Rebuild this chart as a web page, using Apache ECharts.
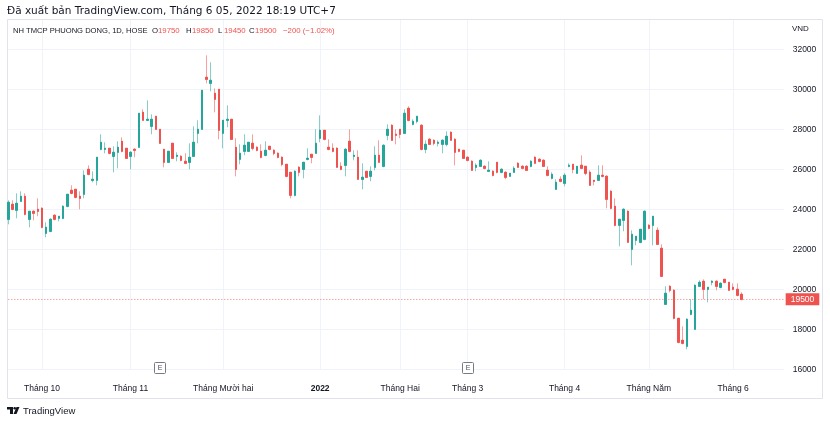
<!DOCTYPE html>
<html><head><meta charset="utf-8">
<script src="https://cdn.jsdelivr.net/npm/echarts@6/dist/echarts.min.js"></script>
<style>html,body{margin:0;padding:0;background:#fff}#c{width:830px;height:423px}</style>
</head><body><div id="c"></div>
<script>
// ---- data ----
const months = ['2021-09','2021-10','2021-11','2021-12','2022-01','2022-02','2022-03','2022-04','2022-05','2022-06'];
const tradingDays = [
  [21,22,23,24,27,28,29,30],
  [1,4,5,6,7,8,11,12,13,14,15,18,19,20,21,22,25,26,27,28,29],
  [1,2,3,4,5,8,9,10,11,12,15,16,17,18,19,22,23,24,25,26,29,30],
  [1,2,3,6,7,8,9,10,13,14,15,16,17,20,21,22,23,24,27,28,29,30,31],
  [4,5,6,7,10,11,12,13,14,17,18,19,20,21,24,25,26,27,28],
  [7,8,9,10,11,14,15,16,17,18,21,22,23,24,25,28],
  [1,2,3,4,7,8,9,10,11,14,15,16,17,18,21,22,23,24,25,28,29,30,31],
  [1,4,5,6,7,8,12,13,14,15,18,19,20,21,22,25,26,27,28,29],
  [4,5,6,9,10,11,12,13,16,17,18,19,20,23,24,25,26,27,30,31],
  [1,2,3]
];
const monthLabels = ['', 'Tháng 10', 'Tháng 11', 'Tháng Mười hai', '2022', 'Tháng Hai', 'Tháng 3', 'Tháng 4', 'Tháng Năm', 'Tháng 6'];
const openP = [23500,24250,23950,24400,24650,23500,23900,24000,24050,22800,22900,23700,23550,23550,24150,24950,25000,24650,24750,26000,
25450,25450,27000,27000,27050,26650,26850,27400,27050,26650,27000,27100,28850,28450,28150,28650,28000,27000,26350,27300,
26650,26650,26400,26350,26650,27800,28000,30600,30300,29800,30000,27800,28450,28500,27100,26500,26900,26900,27300,27100,
26900,26700,27150,26950,26800,26600,26250,25850,24700,26100,26000,26500,26750,26800,27550,27950,27100,27050,27050,26150,
26200,27400,26650,26600,25500,25900,25650,26100,26700,26150,27700,28200,27750,28000,27800,29050,28250,28400,28200,27000,
27500,27450,27300,27250,27250,27850,27500,27000,26950,26600,26400,26100,26150,26150,25900,25900,26350,25850,25850,25650,
25850,26300,26150,26150,26150,26600,26500,26450,25950,25550,25000,25500,25300,26150,26250,25800,26200,26150,25850,25450,
25450,25700,25650,24900,24150,23200,23450,23900,22000,22450,22350,22500,23200,23200,22950,22050,19250,20150,19950,18550,
17450,17150,18750,18000,20150,20400,20000,20350,20400,20100,20500,20350,20100,20000,19750];
const highP = [24450,24450,24800,24900,24800,23900,23950,24550,24100,23350,23550,23750,23650,24200,24750,25200,25000,24900,25950,26200,
25900,26600,27750,27350,27050,27150,27400,27600,27050,26900,27050,28800,29000,29450,28750,28650,28000,27000,26900,27300,
26850,26700,26800,27300,28150,28450,29950,31700,31350,30050,30000,28450,29200,28500,27550,27250,27750,27350,27750,27150,
27250,27400,27150,27000,26850,26650,26250,25850,25950,26150,26350,27050,26750,28000,28700,27950,27500,27300,27100,26350,
27050,28000,26950,26950,26300,25900,26150,27150,27450,27250,28250,28250,28000,28000,29000,29150,28500,28650,28250,27450,
27550,27500,27450,27500,27900,27900,27550,27000,26950,26650,26450,26300,26500,26200,26400,25950,26350,26050,25900,25800,
26150,26350,26200,26200,26450,26650,26550,26500,26150,25850,25500,25650,25800,26300,26250,26150,26700,26150,25950,25450,
26200,26200,25700,24950,24550,23500,24050,23950,22950,22650,23000,23950,23250,23650,23100,22250,20150,20200,20000,18550,
18150,18550,19500,20250,20450,20500,20100,20450,20450,20350,20500,20350,20300,20300,19850];
const lowP = [23250,23950,23550,24400,23700,23100,23450,23650,23050,22600,22850,23450,23400,23500,24100,24750,24550,24000,24550,25700,
25350,25200,26950,26800,26750,25850,26050,26850,26550,26000,26600,27100,28450,28450,27750,28000,27300,26100,26350,26550,
26400,26400,26300,26000,26650,27300,28000,30300,29900,28850,27500,27050,28100,27500,25650,26250,26700,26900,26950,26900,
26550,26650,26950,26700,26550,26150,25600,24550,24650,25650,25550,26450,26300,26800,27350,27450,26950,26850,26100,25950,
25650,26850,26450,25500,25000,25600,25400,25950,26350,26100,27450,27450,27250,27550,27800,28400,28200,28300,26950,26800,
27250,27200,27150,26800,27150,27450,26200,26850,26550,26400,25950,25900,26150,26000,25900,25650,25800,25800,25500,25650,
25850,26100,26000,25950,26100,26300,26350,26150,25650,25500,25000,25350,25150,26100,25800,25800,26050,25700,25200,25200,
25450,25600,24050,24000,23150,22150,22900,22350,21200,22200,22300,22450,23000,22200,22250,20650,19250,19850,18500,17300,
17250,17000,18700,18000,20150,19500,19350,20200,19950,20050,20300,19950,19950,19650,19450];
const closeP = [24350,24000,24300,24650,23750,23900,23800,23900,23100,23100,23500,23500,23650,24150,24750,24800,24600,24550,25700,25750,
25500,26600,27350,27050,26800,26850,27100,26900,26550,26850,26950,28800,28450,28500,28500,28000,27300,26350,26900,26550,
26700,26450,26300,26600,27350,28000,29950,30500,30450,29500,27950,28450,28500,27500,26000,26800,27200,27350,27050,26950,
26600,26950,27000,26800,26600,26250,25650,24700,25900,25850,26350,26550,26600,27300,27950,27500,27000,26900,26100,26000,
27000,26900,26700,25500,25600,25600,25900,26700,26350,27200,28000,27450,27700,27750,28800,28450,28400,28650,27000,27250,
27250,27300,27350,27450,27650,27450,26850,26900,26550,26450,25950,26200,26450,26050,25950,25700,25850,26000,25600,25800,
26050,26100,26050,25950,26400,26300,26400,26150,25700,25750,25350,25400,25700,26200,26000,26150,26050,25800,25200,25400,
25700,25650,24500,24050,23200,23500,24000,22350,22750,22650,23000,23900,23050,23650,22250,20650,19800,19950,18550,17350,
17300,18500,18950,20200,20350,20000,20100,20400,20150,20300,20350,19950,20000,19700,19500];
const lastPrice = 19500;
const priceTicks = [16000, 18000, 20000, 22000, 24000, 26000, 28000, 30000, 32000];
const earningsDates = ['2021-11-10', '2022-03-01'];
const headerTitle = 'Đã xuất bản TradingView.com, Tháng 6 05, 2022 18:19 UTC+7';
const symbolText = 'NH TMCP PHUONG DONG, 1D, HOSE';
const ohlcText = [['O', '19750'], ['H', '19850'], ['L', '19450'], ['C', '19500']];
const changeText = '\u2212200 (\u22121.02%)';

// ---- build ----
const pad2 = n => (n < 10 ? '0' : '') + n;
const dates = [];
const monthStartIdx = {};
months.forEach((m, mi) => {
  tradingDays[mi].forEach((d, k) => {
    if (k === 0 && monthLabels[mi]) monthStartIdx[dates.length] = monthLabels[mi];
    dates.push(m + '-' + pad2(d));
  });
});
const PAD = 10;
const cats = dates.concat(Array.from({length: PAD}, (_, k) => 'pad' + k));
const full = openP.map((o, i) => [o, closeP[i], lowP[i], highP[i]]);
const bodies = openP.map((o, i) => [o, closeP[i], Math.min(o, closeP[i]), Math.max(o, closeP[i])]);

const UP = '#26a69a', DOWN = '#ef5350';
const UPW = 'rgba(38,166,154,0.55)', DOWNW = 'rgba(239,83,80,0.55)';
const GRID = '#f0f3fa';
const TXT = '#131722';
const FONT = '"Liberation Sans", Arial, sans-serif';

const chart = echarts.init(document.getElementById('c'), null, {renderer: 'canvas'});
const isMonthStart = (idx) => monthStartIdx[idx] !== undefined;
const option = {
  animation: false,
  backgroundColor: '#ffffff',
  grid: {left: 8.3, top: 19.3, width: 184 * 4.214, height: 350},
  xAxis: {
    type: 'category', data: cats, boundaryGap: false,
    axisLine: {show: false}, axisTick: {show: false},
    axisLabel: {
      interval: (idx) => isMonthStart(idx), margin: 15,
      formatter: (v, idx) => monthStartIdx[idx] === '2022' ? '{b|2022}' : monthStartIdx[idx],
      color: TXT, fontSize: 8.5, fontFamily: FONT,
      rich: {b: {fontWeight: 'bold', fontSize: 8.5, color: TXT, fontFamily: FONT}}
    },
    splitLine: {show: true, interval: (idx) => isMonthStart(idx), lineStyle: {color: GRID, width: 1}}
  },
  yAxis: {
    type: 'value', position: 'right', min: 16000, max: 33500, interval: 2000, scale: true,
    axisLine: {show: false}, axisTick: {show: false},
    axisLabel: {margin: 9, color: TXT, fontSize: 8.5, fontFamily: FONT, showMaxLabel: false,
      formatter: v => priceTicks.indexOf(v) >= 0 ? String(v) : ''},
    splitLine: {show: true, lineStyle: {color: GRID, width: 1}}
  },
  series: [
    {
      type: 'candlestick', data: full, barWidth: 2, clip: false, silent: true,
      itemStyle: {color: UP, color0: DOWN, borderColor: UPW, borderColor0: DOWNW, borderWidth: 1},
      markLine: {
        silent: true, symbol: ['none', 'none'], animation: false,
        lineStyle: {color: 'rgba(239,83,80,0.75)', type: [1, 2], width: 1},
        label: {show: true, position: 'end', distance: 2, formatter: String(lastPrice),
          backgroundColor: DOWN, color: '#ffffff', fontSize: 8.5, fontFamily: FONT, padding: [2, 5, 1, 5]},
        data: [{yAxis: lastPrice}]
      }
    },
    {
      type: 'candlestick', data: bodies, barWidth: 2, clip: false, silent: true,
      itemStyle: {color: UP, color0: DOWN, borderColor: UP, borderColor0: DOWN, borderWidth: 1}
    }
  ]
};
chart.setOption(option);

// header / decorations
const gfx = [
  {type: 'rect', silent: true, z: 0, shape: {x: 7.5, y: 19.5, width: 815, height: 379},
   style: {fill: 'none', stroke: '#e0e3eb', lineWidth: 1}},
  {type: 'text', x: 7, y: 11.5, silent: true,
   style: {text: headerTitle, fill: TXT, font: '10.5px "DejaVu Sans", sans-serif', verticalAlign: 'middle'}},
  {type: 'text', x: 13, y: 30.5, silent: true,
   style: {text: symbolText, fill: TXT, font: '7.6px ' + FONT, verticalAlign: 'middle'}},
  {type: 'text', x: 792, y: 28.5, silent: true,
   style: {text: 'VND', fill: TXT, font: '8px ' + FONT, verticalAlign: 'middle'}},
  {type: 'text', x: 23, y: 411.5, silent: true,
   style: {text: 'TradingView', fill: TXT, font: '9.5px ' + FONT, verticalAlign: 'middle'}},
  // TradingView logo glyph
  {type: 'polygon', silent: true, shape: {points: [[7,407],[13,407],[13,414],[10,414],[10,409.5],[7,409.5]]}, style: {fill: '#131722'}},
  {type: 'circle', silent: true, shape: {cx: 14.7, cy: 408.2, r: 1.3}, style: {fill: '#131722'}},
  {type: 'polygon', silent: true, shape: {points: [[16.5,407],[19.5,407],[16.5,414],[13.5,414]]}, style: {fill: '#131722'}}
];
const ohlcX = [152, 186, 218, 249];
ohlcText.forEach((p, k) => {
  gfx.push({type: 'text', x: ohlcX[k], y: 30.5, silent: true,
    style: {text: p[0], fill: TXT, font: '7.8px ' + FONT, verticalAlign: 'middle'}});
  gfx.push({type: 'text', x: ohlcX[k] + 6, y: 30.5, silent: true,
    style: {text: p[1], fill: DOWN, font: '7.8px ' + FONT, verticalAlign: 'middle'}});
});
gfx.push({type: 'text', x: 283, y: 30.5, silent: true,
  style: {text: changeText, fill: DOWN, font: '7.8px ' + FONT, verticalAlign: 'middle'}});
earningsDates.forEach(d => {
  const px = chart.convertToPixel({xAxisIndex: 0}, d);
  gfx.push({type: 'rect', silent: true, shape: {x: Math.round(px) - 5.5, y: 362.5, width: 11, height: 11, r: 1},
    style: {fill: '#ffffff', stroke: '#787b86', lineWidth: 1}});
  gfx.push({type: 'text', silent: true, x: Math.round(px), y: 368.5,
    style: {text: 'E', fill: '#4a4e59', font: '7px ' + FONT, align: 'center', verticalAlign: 'middle'}});
});
chart.setOption({graphic: gfx});
</script></body></html>
